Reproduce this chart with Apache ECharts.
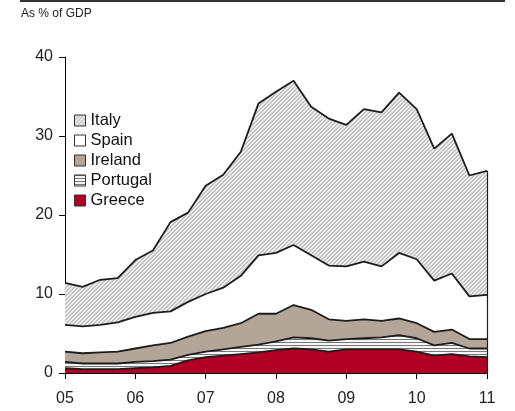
<!DOCTYPE html>
<html>
<head>
<meta charset="utf-8">
<script src="https://cdn.jsdelivr.net/npm/echarts@6/dist/echarts.min.js"></script>
<style>
html,body{margin:0;padding:0;background:#fff;}
#c{width:515px;height:411px;}
</style>
</head>
<body>
<div id="c"></div>
<script>
// Quarterly categories, 2005Q1 .. 2011Q1
var categories = ['05Q1','05Q2','05Q3','05Q4','06Q1','06Q2','06Q3','06Q4','07Q1','07Q2','07Q3','07Q4','08Q1','08Q2','08Q3','08Q4','09Q1','09Q2','09Q3','09Q4','10Q1','10Q2','10Q3','10Q4','11Q1'];
var yTicks = [0, 10, 20, 30, 40];

// Values, % of GDP (stacked bottom to top: Greece, Portugal, Ireland, Spain, Italy)
var greece   = [0.6,0.5,0.5,0.5,0.6,0.7,0.9,1.6,2.0,2.2,2.4,2.6,2.9,3.1,3.0,2.7,3.0,3.0,3.0,3.0,2.7,2.2,2.4,2.1,2.0];
var portugal = [0.8,0.7,0.7,0.7,0.8,0.8,0.8,0.7,0.7,0.8,0.9,1.0,1.1,1.4,1.4,1.4,1.3,1.4,1.5,1.8,1.7,1.3,1.4,1.0,1.1];
var ireland  = [1.3,1.3,1.4,1.5,1.7,2.0,2.1,2.3,2.6,2.7,3.0,3.9,3.5,4.1,3.6,2.7,2.3,2.4,2.1,2.1,1.9,1.7,1.7,1.2,1.2];
var spain    = [3.4,3.4,3.5,3.7,4.0,4.1,4.0,4.4,4.7,5.1,6.0,7.4,7.7,7.6,6.9,6.8,6.9,7.3,6.9,8.3,8.1,6.5,7.1,5.4,5.6];
var italy    = [5.3,5.0,5.7,5.6,7.2,7.9,11.3,11.3,13.7,14.3,15.7,19.2,20.4,20.8,18.8,18.6,17.9,19.3,19.5,20.3,19.0,16.7,17.7,15.3,15.7];

var legendOrder = ['Italy','Spain','Ireland','Portugal','Greece'];

function makePattern(size, fn) {
  var cv = document.createElement('canvas');
  cv.width = size; cv.height = size;
  var ctx = cv.getContext('2d');
  var img = ctx.createImageData(size, size);
  for (var y = 0; y < size; y++) {
    for (var x = 0; x < size; x++) {
      var c = fn(x, y);
      var i = (y * size + x) * 4;
      img.data[i] = c[0]; img.data[i+1] = c[1]; img.data[i+2] = c[2]; img.data[i+3] = 255;
    }
  }
  ctx.putImageData(img, 0, 0);
  return { image: cv, repeat: 'repeat' };
}
var hatch = makePattern(4, function (x, y) {
  var k = (x + y) % 4;
  return (k === 0 || k === 1) ? [196,196,196] : [238,238,238];
});
var stripes = makePattern(3, function (x, y) {
  return (y % 3 === 0) ? [120,120,120] : [245,245,245];
});

var fills = {
  Greece: '#b10024',
  Portugal: stripes,
  Ireland: '#b3a597',
  Spain: '#ffffff',
  Italy: hatch
};
var values = { Greece: greece, Portugal: portugal, Ireland: ireland, Spain: spain, Italy: italy };
var stackOrder = ['Greece','Portugal','Ireland','Spain','Italy'];

var lastIdx = categories.length - 1;
var lastTotal = 0;
stackOrder.forEach(function (n) { lastTotal += values[n][lastIdx]; });

var font = 'Liberation Sans, Arial, Helvetica, sans-serif';
var lineCol = '#1c1c1c';

var series = stackOrder.map(function (n) {
  var s = {
    name: n,
    type: 'line',
    stack: 'total',
    data: values[n],
    symbol: 'none',
    smooth: false,
    lineStyle: { color: lineCol, width: 1.8 },
    itemStyle: { color: fills[n], borderColor: '#333', borderWidth: 1 },
    areaStyle: { color: fills[n], opacity: 1 },
    z: 2
  };
  if (n === 'Italy') {
    s.markLine = {
      silent: true,
      symbol: 'none',
      label: { show: false },
      lineStyle: { color: lineCol, width: 1.2, type: 'solid' },
      data: [[{ coord: [lastIdx, 0] }, { coord: [lastIdx, lastTotal] }]]
    };
  }
  return s;
});

var chart = echarts.init(document.getElementById('c'), null, { renderer: 'canvas' });
chart.setOption({
  animation: false,
  backgroundColor: '#ffffff',
  title: {
    text: 'As % of GDP',
    left: 21, top: 8,
    padding: 0,
    textStyle: { fontFamily: font, fontSize: 12, fontWeight: 'normal', color: '#222' }
  },
  graphic: [{
    type: 'line',
    shape: { x1: 20, y1: 1, x2: 505, y2: 1 },
    style: { stroke: '#333', lineWidth: 2 }
  }],
  legend: {
    orient: 'vertical',
    left: 74, top: 112,
    padding: 0,
    itemWidth: 11, itemHeight: 11,
    itemGap: 3,
    icon: 'rect',
    textStyle: { fontFamily: font, fontSize: 16.5, color: '#111', lineHeight: 17 },
    data: legendOrder.map(function (n) {
      return { name: n, icon: 'rect', itemStyle: { color: fills[n], borderColor: '#333', borderWidth: 1 } };
    })
  },
  grid: { left: 65, right: 28, top: 57, bottom: 38, containLabel: false },
  xAxis: {
    type: 'category',
    data: categories,
    boundaryGap: false,
    axisLine: { show: true, lineStyle: { color: '#000', width: 1 } },
    axisTick: { show: true, interval: 3, length: 6, inside: false, lineStyle: { color: '#000' } },
    axisLabel: {
      interval: 3,
      margin: 18,
      fontFamily: font, fontSize: 16, color: '#222',
      formatter: function (v) { return v.slice(0, 2); }
    },
    splitLine: { show: false }
  },
  yAxis: {
    type: 'value',
    min: yTicks[0], max: yTicks[yTicks.length - 1], interval: 10,
    axisLine: { show: true, lineStyle: { color: '#000', width: 1 } },
    axisTick: { show: true, length: 6, inside: false, lineStyle: { color: '#000' } },
    axisLabel: { margin: 12, fontFamily: font, fontSize: 16, color: '#222' },
    splitLine: { show: false }
  },
  series: series
});
</script>
</body>
</html>
